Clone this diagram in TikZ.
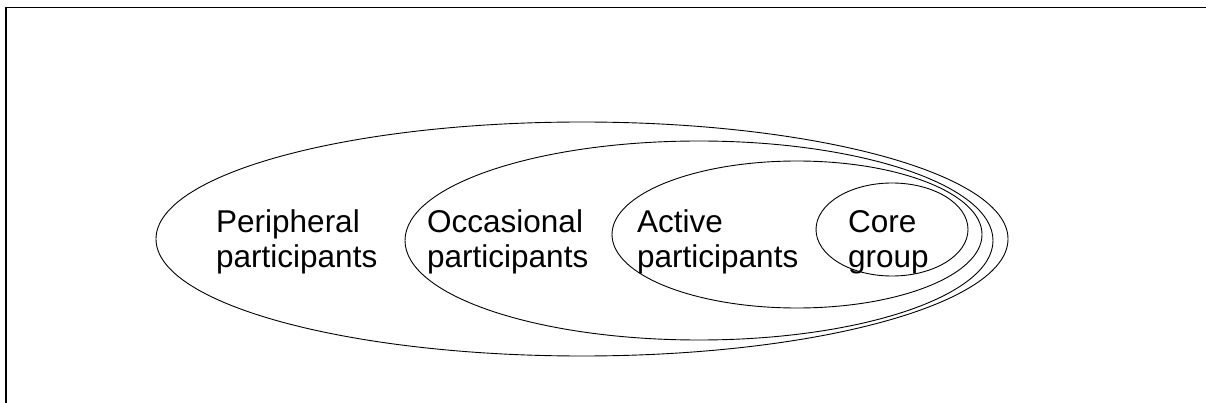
\documentclass[tikz,border=0pt]{standalone}
\usepackage{fontspec}
\setmainfont{Liberation Sans}
\usetikzlibrary{shapes.geometric}

\tikzset{
	ring/.style={ellipse,draw,line width=0.9pt,inner sep=0pt},
	grouplabel/.style={anchor=base west,align=left,inner sep=0pt,
		font=\fontsize{31.5}{35}\selectfont}
}

\newcommand{\cpring}[4]
{
	\node[ring,minimum width=#3,minimum height=#4] at (#2) (#1) {}
}

\newcommand{\cplabel}[3]
{
	\node[grouplabel] at (#2) (#1) {#3}
}

\begin{document}
\begin{tikzpicture}[x=1pt,y=-1pt]
	\useasboundingbox (0,0) rectangle (1206,403);
	
	%%% Frame
	\coordinate (frameTR) at (1206,7.5);
	\coordinate (frameTL) at (6,7.5);
	\coordinate (frameBL) at (6,403);
	\draw[line width=1.2pt] (frameTR) -- (frameTL) -- (frameBL);
	
	%%% Rings, outside to inside
	\cpring{peripheral}{582,239}{852pt}{234pt};
	\cpring{occasional}{699,240.5}{588pt}{199pt};
	\cpring{active}{797,234.5}{370pt}{147pt};
	\cpring{core}{892,229.5}{152pt}{93pt};
	
	%%% Labels (anchored on the second line)
	\cplabel{peripheralText}{216,267}{Peripheral\\participants};
	\cplabel{occasionalText}{427,267}{Occasional\\participants};
	\cplabel{activeText}{637,267}{Active\\participants};
	\cplabel{coreText}{848,267}{Core\\group};
\end{tikzpicture}
\end{document}
